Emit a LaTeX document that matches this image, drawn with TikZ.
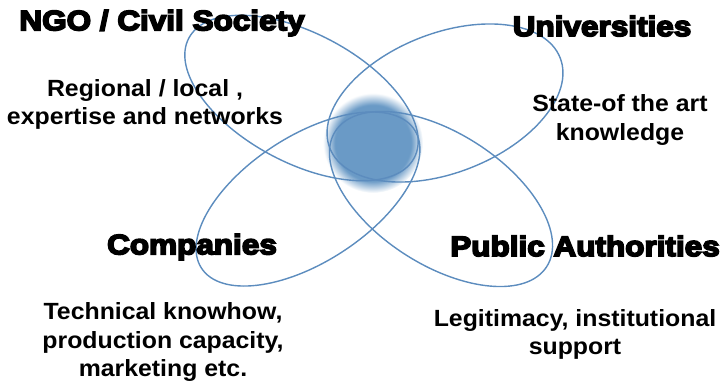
\documentclass[tikz,border=0pt]{standalone}
\usepackage{fontspec}
\setmainfont{Liberation Sans}
\newfontfamily\headfont[FakeStretch=1.12,FakeBold=6]{Liberation Sans Bold}
\newfontfamily\notefont[FakeStretch=1.06]{Liberation Sans Bold}
\usepackage{tikz}
\definecolor{ringblue}{RGB}{92,140,190}
\definecolor{blobblue}{RGB}{106,154,198}
\pgfdeclareradialshading{blobshade}{\pgfpoint{0bp}{0bp}}{color(0bp)=(blobblue); color(19bp)=(blobblue); color(25bp)=(white); color(50bp)=(white)}
\tikzset{ring/.style={draw=ringblue,line width=1.2pt},
  head/.style={font=\fontsize{24}{28}\selectfont\headfont,inner sep=0pt},
  note/.style={font=\fontsize{20}{24}\selectfont\notefont,align=center,inner sep=0pt}}

\begin{document}
\begin{tikzpicture}[x=0.03cm,y=-0.03cm]
\useasboundingbox (0,0) rectangle (725,385);
\shade[shading=blobshade] (373,143) circle [radius=50];
\draw[ring,rotate around={-28:(301.5,98)}] (301.5,98) ellipse [x radius=127.6,y radius=64.6];
\draw[ring,rotate around={21.4:(445,103)}] (445,103) ellipse [x radius=123.7,y radius=69.7];
\draw[ring,rotate around={33:(308,199)}] (308,199) ellipse [x radius=127,y radius=63];
\draw[ring,rotate around={-32.6:(441,199)}] (441,199) ellipse [x radius=125.5,y radius=66];
\node[head] (ngo) at (162,23) {NGO / Civil Society};
\node[head] (uni) at (602,26) {Universities};
\node[head] (comp) at (192,247) {Companies};
\node[head] (pub) at (585,246) {Public Authorities};
\node[note] (ngotxt) at (145,104) {Regional / local ,\\expertise and networks};
\node[note] (unitxt) at (620,120) {State-of the art\\knowledge};
\node[note] (comptxt) at (163,342) {Technical knowhow,\\production capacity,\\marketing etc.};
\node[note] (pubtxt) at (575,334) {Legitimacy, institutional\\support};
\end{tikzpicture}
\end{document}
